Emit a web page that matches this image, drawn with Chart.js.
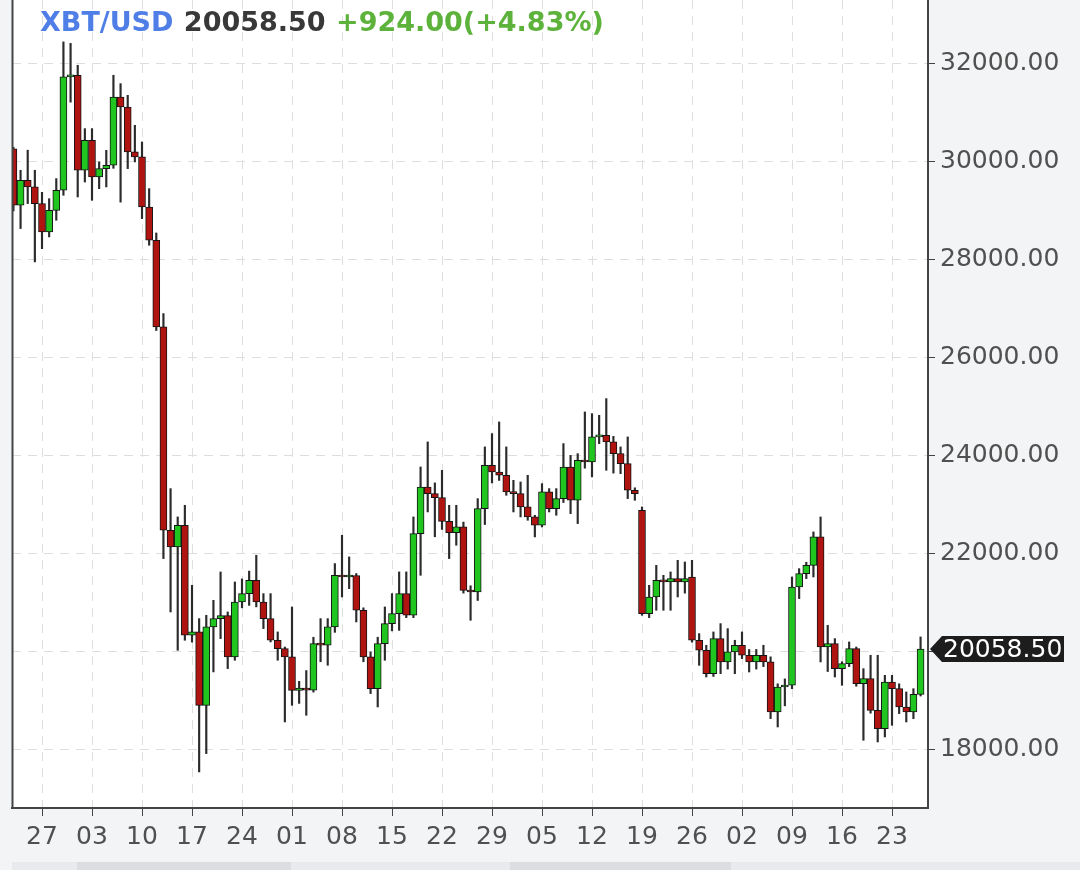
<!DOCTYPE html>
<html>
<head>
<meta charset="utf-8">
<title>XBT/USD</title>
<script src="https://cdn.jsdelivr.net/npm/chart.js@4.4.1/dist/chart.umd.min.js"></script>
<style>
  html, body { margin: 0; padding: 0; background: #f3f4f6; }
  canvas { display: block; }
</style>
</head>
<body>
<canvas id="grafico" width="1080" height="870"></canvas>
<script>
// um candle por dia: 23 mai .. 27 set
const dias = [
  '23','24','25','26','27','28','29','30','31',
  '01','02','03','04','05','06','07','08','09','10','11','12','13','14','15','16','17','18','19','20','21','22','23','24','25','26','27','28','29','30',
  '01','02','03','04','05','06','07','08','09','10','11','12','13','14','15','16','17','18','19','20','21','22','23','24','25','26','27','28','29','30','31',
  '01','02','03','04','05','06','07','08','09','10','11','12','13','14','15','16','17','18','19','20','21','22','23','24','25','26','27','28','29','30','31',
  '01','02','03','04','05','06','07','08','09','10','11','12','13','14','15','16','17','18','19','20','21','22','23','24','25','26','27'
];

const aberturas = [
  30270, 29120, 29626, 29490, 29150, 28571, 29013, 29422, 31735,
  31769, 29830, 30442, 29694, 29864, 29932, 31326, 31122, 30204, 30102, 29081, 28401, 26633, 22483, 22143, 22585, 20340, 20408, 18911, 20510, 20680, 20740, 19898, 21020, 21190, 21462, 21020, 20680, 20238, 20068,
  19898, 19217, 19260, 19220, 20170, 20140, 20510, 21565, 21530, 21560, 20850, 19898, 19252, 20170, 20578, 20782, 21190, 20748, 22415, 23367, 23231, 23150, 22666, 22435, 22551, 21258, 21224, 22925, 23809, 23673, 23605,
  23265, 23231, 22959, 22755, 22585, 23265, 22925, 23129, 23775, 23095, 23911, 23877, 24388, 24420, 24286, 24047, 23843, 23299, 22891, 20782, 21122, 21462, 21430, 21497, 21430, 21530, 20238, 20034, 19557, 20272, 19796,
  20000, 20136, 19932, 19796, 19932, 19796, 18775, 19285, 19320, 21326, 21598, 21768, 22347, 20102, 20170, 19659, 19761, 20068, 19353, 19455, 18809, 18435, 19387, 19251, 18877, 18775, 19134.5
];
const maximas = [
  30300, 29830, 30240, 29830, 29380, 29250, 29660, 32450, 32420,
  31973, 30680, 30680, 30000, 30238, 31769, 31598, 31360, 30748, 30408, 29455, 28550, 26905, 23333, 22755, 22993, 21360, 20680, 20748, 21054, 21632, 20816, 21428, 21490, 21650, 21973, 21190, 21190, 20408, 20100,
  20918, 19400, 19620, 20300, 20680, 20680, 21803, 22381, 21939, 21600, 20900, 20000, 20300, 20918, 21190, 21633, 21633, 22755, 23775, 24286, 23450, 23707, 22993, 22993, 22650, 21350, 23129, 24184, 24456, 24694, 24184,
  23503, 23469, 23605, 22789, 23435, 23333, 23333, 24252, 24013, 24047, 24898, 24864, 24830, 25170, 24400, 24184, 24388, 23350, 22959, 21360, 21768, 21564, 21632, 21870, 21836, 21870, 20374, 20136, 20408, 20578, 20476,
  20238, 20408, 20050, 20050, 20136, 19900, 19350, 19450, 21530, 21700, 21830, 22449, 22755, 20544, 20272, 19800, 20204, 20100, 19659, 19932, 19932, 19523, 19523, 19350, 19183, 19250, 20306
];
const minimas = [
  29000, 28640, 29150, 27960, 28230, 28470, 28810, 29320, 31220,
  29285, 29590, 29217, 29455, 29490, 29870, 29180, 29864, 30000, 28843, 28300, 26560, 21905, 20816, 20034, 20238, 20200, 17551, 17925, 19592, 20272, 19660, 19830, 20900, 20950, 20920, 20476, 20204, 19830, 18571,
  18911, 18950, 18707, 19180, 19800, 19728, 20400, 21122, 21292, 20612, 19800, 19150, 18877, 19830, 20430, 20440, 20700, 20700, 21564, 22857, 22350, 22500, 21905, 22177, 21200, 20646, 21050, 22600, 23450, 23500, 23197,
  22857, 22755, 22687, 22347, 22550, 22857, 22789, 23050, 22823, 22619, 23750, 23571, 24250, 23707, 23650, 23639, 23129, 23095, 20748, 20700, 20850, 20850, 20850, 21122, 21200, 20200, 19727, 19489, 19500, 19557, 19650,
  19557, 19864, 19591, 19650, 19700, 18639, 18469, 18900, 19250, 21088, 21496, 21530, 19796, 19600, 19489, 19319, 19700, 19300, 18197, 18750, 18163, 18265, 18503, 18741, 18571, 18639, 19100
];
const fechamentos = [
  29120, 29626, 29490, 29150, 28571, 29013, 29422, 31735, 31769,
  29830, 30442, 29694, 29864, 29932, 31326, 31122, 30204, 30102, 29081, 28401, 26633, 22483, 22143, 22585, 20340, 20410, 18911, 20510, 20680, 20740, 19898, 21020, 21190, 21462, 21020, 20680, 20238, 20068, 19898,
  19217, 19260, 19220, 20170, 20140, 20510, 21565, 21530, 21560, 20850, 19898, 19252, 20170, 20578, 20782, 21190, 20748, 22415, 23367, 23231, 23150, 22666, 22435, 22551, 21258, 21224, 22925, 23809, 23673, 23605, 23265,
  23231, 22959, 22755, 22585, 23265, 22925, 23129, 23775, 23095, 23911, 23877, 24388, 24420, 24286, 24047, 23843, 23299, 23231, 20782, 21122, 21462, 21430, 21497, 21430, 21497, 20238, 20034, 19557, 20272, 19796, 20000,
  20136, 19932, 19796, 19932, 19796, 18775, 19285, 19320, 21326, 21598, 21768, 22347, 20102, 20170, 19659, 19761, 20068, 19353, 19455, 18809, 18435, 19387, 19251, 18877, 18775, 19134.5, 20058.5
];

// rótulos dos eixos
const rotulosY = [18000, 20000, 22000, 24000, 26000, 28000, 30000, 32000];
const primeiraSemana = 4;   // índice do dia 27 mai
const totalSemanas = 18;
const par = 'XBT/USD';
const variacao = '+924.00(+4.83%)';

const ultimo = fechamentos.length - 1;
const corpos = dias.map((d, k) => ({ x: k, y: [aberturas[k], fechamentos[k]] }));
const pavios = dias.map((d, k) => ({ x: k, y: [minimas[k], maximas[k]] }));
const cores = dias.map((d, k) => fechamentos[k] >= aberturas[k] ? '#20c61f' : '#b01411');
const ticksX = [];
for (let s = 0; s < totalSemanas; s++) ticksX.push(primeiraSemana + s * 7);

Chart.defaults.font.family = "'DejaVu Sans', sans-serif";

// fundo cinza fora da área do gráfico, título, etiqueta do preço
const decoracao = {
  id: 'decoracao',
  beforeDraw(chart) {
    const c = chart.ctx, a = chart.chartArea;
    c.save();
    c.fillStyle = '#f3f4f6';
    c.fillRect(0, 0, chart.width, chart.height);
    c.fillStyle = '#ffffff';
    c.fillRect(a.left, a.top, a.right - a.left, a.bottom - a.top);
    // barra de rolagem embaixo
    c.fillStyle = '#e9eaed';
    c.fillRect(a.left, 862, chart.width - a.left, 8);
    c.fillStyle = '#dcdde1';
    c.fillRect(77, 862, 214, 8);
    c.fillRect(510, 862, 221, 8);
    c.restore();
  },
  afterDraw(chart) {
    const c = chart.ctx, a = chart.chartArea;
    c.save();
    // borda esquerda
    c.strokeStyle = '#444';
    c.lineWidth = 2;
    c.beginPath();
    c.moveTo(a.left + 0.5, 0);
    c.lineTo(a.left + 0.5, a.bottom);
    c.stroke();

    // título
    c.font = "bold 27px 'DejaVu Sans'";
    c.textBaseline = 'alphabetic';
    let x = 40;
    const partes = [[par, '#4f7fe6'], [fechamentos[ultimo].toFixed(2), '#383838'], [variacao, '#5cb23a']];
    partes.forEach(([txt, cor]) => {
      c.fillStyle = cor;
      c.fillText(txt, x, 31);
      x += c.measureText(txt + ' ').width + 1;
    });

    // etiqueta do último preço
    const y = chart.scales.y.getPixelForValue(fechamentos[ultimo]);
    c.fillStyle = '#1d1d1d';
    c.beginPath();
    c.moveTo(a.right + 2, y);
    c.lineTo(a.right + 14, y - 13);
    c.lineTo(1064, y - 13);
    c.lineTo(1064, y + 13);
    c.lineTo(a.right + 14, y + 13);
    c.closePath();
    c.fill();
    c.fillStyle = '#ffffff';
    c.font = "25px 'DejaVu Sans'";
    c.textBaseline = 'middle';
    c.fillText(fechamentos[ultimo].toFixed(2), a.right + 15, y + 1);
    c.restore();
  }
};

const ctx = document.getElementById('grafico').getContext('2d');
new Chart(ctx, {
  type: 'bar',
  data: {
    datasets: [
      {
        label: 'corpo',
        data: corpos,
        backgroundColor: cores,
        borderColor: '#141414',
        borderWidth: 1,
        borderSkipped: false,
        barThickness: 7,
        minBarLength: 2,
        grouped: false,
        order: 0
      },
      {
        label: 'pavio',
        data: pavios,
        backgroundColor: '#2b2b2b',
        borderWidth: 0,
        barThickness: 1.5,
        grouped: false,
        order: 1
      }
    ]
  },
  options: {
    responsive: false,
    animation: false,
    layout: { padding: { left: 12, top: 0, right: 0, bottom: 0 } },
    plugins: { legend: { display: false }, tooltip: { enabled: false } },
    scales: {
      x: {
        type: 'linear',
        position: 'bottom',
        min: -0.2,
        max: dias.length + 0.04,
        offset: false,
        afterBuildTicks: s => { s.ticks = ticksX.map(v => ({ value: v })); },
        afterFit: s => { s.height = 62; s.paddingLeft = 0; s.paddingRight = 0; },
        ticks: {
          autoSkip: false,
          maxRotation: 0,
          padding: 6,
          color: '#505050',
          font: { size: 25 },
          callback: v => dias[v]
        },
        grid: { color: '#dedede', offset: false, tickColor: '#444', tickLength: 8, tickBorderDash: [] },
        border: { display: true, color: '#444', width: 2, dash: [9, 7] }
      },
      y: {
        position: 'right',
        min: 16815,
        max: 33305,
        afterBuildTicks: s => { s.ticks = rotulosY.map(v => ({ value: v })); },
        afterFit: s => { s.width = 152; s.paddingTop = 0; s.paddingBottom = 0; },
        ticks: {
          padding: 5,
          color: '#505050',
          font: { size: 25 },
          callback: v => v.toFixed(2)
        },
        grid: { color: '#dedede', tickColor: '#444', tickLength: 7, tickBorderDash: [] },
        border: { display: true, color: '#444', width: 2, dash: [9, 7] }
      }
    }
  },
  plugins: [decoracao]
});
</script>
</body>
</html>
